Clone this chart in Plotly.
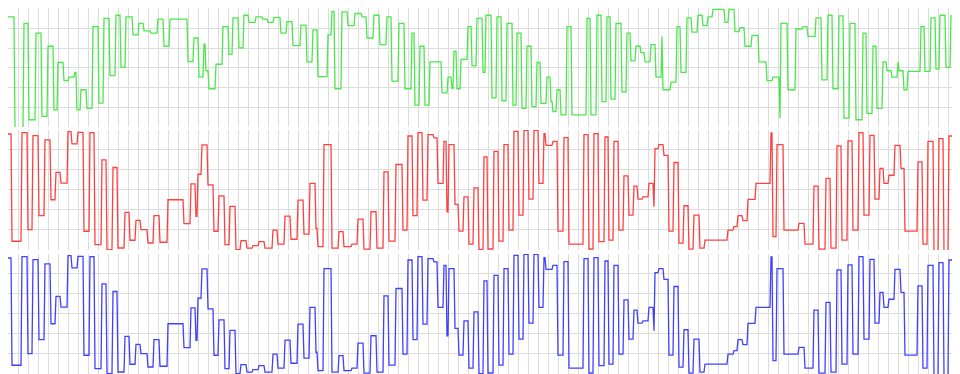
import plotly.graph_objects as go

# Step signal breakpoints: sample position where each level begins, and the level (0..6 grid units)
green_x = [7, 14, 23, 28, 35, 41, 47, 53, 57, 63, 68, 74, 76, 80, 86, 92, 98, 103, 109, 115, 120, 125,
           132, 138, 143, 150, 157, 163, 169, 187, 193, 198, 203, 205, 208, 215, 222, 228, 232, 238,
           243, 248, 255, 262, 267, 273, 280, 286, 292, 300, 306, 312, 317, 327, 331, 334, 341, 347,
           354, 361, 366, 373, 379, 386, 391, 398, 404, 411, 414, 419, 424, 429, 441, 447, 451, 453,
           456, 460, 467, 471, 476, 482, 485, 491, 496, 501, 506, 512, 516, 521, 526, 531, 536, 540,
           546, 550, 552, 556, 560, 566, 571, 586, 590, 596, 601, 606, 610, 615, 621, 626, 630, 635,
           640, 644, 650, 655, 661, 662, 670, 676, 680, 686, 691, 697, 702, 707, 712, 724, 728, 734,
           739, 744, 751, 758, 766, 772, 779, 780, 787, 795, 802, 807, 815, 821, 827, 832, 838, 843,
           849, 855, 862, 866, 872, 876, 882, 886, 891, 897, 898, 903, 907, 920, 924, 930, 935, 939,
           945, 950, 957]
green_y = [5.6, -0.1, 5.27, 0.35, 4.77, 0.52, 4.1, 0.85, 3.27, 2.35, 2.52, 2.77, 0.85, 1.88, 0.93, 5.1,
           1.2, 5.52, 2.6, 5.68, 3.02, 5.6, 4.68, 5.27, 4.88, 4.77, 5.48, 4.1, 5.48, 3.32, 4.52, 2.52,
           4.2, 2.85, 1.93, 3.18, 5.1, 3.68, 5.55, 4.02, 5.68, 5.32, 5.6, 5.48, 5.32, 5.57, 4.77, 5.35,
           4.13, 5.18, 3.3, 4.93, 2.55, 4.68, 5.88, 1.93, 5.85, 5.15, 5.77, 5.6, 4.52, 5.68, 4.18, 5.6,
           2.32, 5.27, 1.93, 4.77, 1.1, 4.1, 1.1, 3.3, 1.72, 2.52, 1.95, 3.85, 1.93, 3.43, 5.1, 3.1,
           5.52, 2.77, 5.68, 1.47, 5.6, 1.32, 5.27, 1.1, 4.77, 0.93, 4.1, 1.02, 3.27, 1.18, 2.52, 1.27,
           0.77, 1.88, 0.6, 5.1, 0.6, 5.52, 0.6, 5.68, 1.27, 5.6, 1.4, 5.27, 1.77, 4.77, 3.35, 4.1,
           3.77, 3.3, 4.18, 2.52, 4.6, 1.88, 2.27, 5.1, 2.77, 5.55, 4.82, 5.68, 5.15, 5.6, 5.98, 5.32,
           5.98, 4.85, 5.05, 4.1, 4.65, 3.3, 2.35, 2.52, 0.43, 5.27, 1.88, 4.98, 5.1, 4.6, 5.55, 2.38,
           5.68, 1.93, 5.65, 0.43, 5.27, 0.35, 4.77, 0.68, 4.1, 0.93, 3.3, 2.85, 2.52, 3.3, 2.85, 1.88,
           2.82, 5.1, 2.82, 5.55, 2.93, 5.68, 3.02, 5.65, 3.1]

red_x = [7, 11, 21, 27, 32, 38, 44, 50, 55, 60, 67, 71, 77, 83, 89, 94, 101, 106, 112, 117, 124, 129,
         135, 140, 147, 153, 159, 167, 183, 190, 195, 197, 201, 207, 213, 218, 224, 229, 235, 240, 246,
         252, 258, 264, 272, 277, 284, 290, 297, 303, 309, 315, 317, 323, 331, 338, 343, 351, 357, 363,
         370, 376, 383, 388, 395, 402, 407, 412, 417, 422, 427, 433, 437, 443, 446, 448, 454, 458, 463,
         468, 473, 478, 483, 487, 493, 498, 503, 508, 513, 518, 523, 528, 533, 538, 543, 545, 552, 557,
         563, 568, 583, 588, 593, 598, 604, 608, 613, 618, 623, 628, 633, 637, 642, 648, 653, 654, 658,
         663, 668, 673, 678, 683, 688, 693, 699, 704, 727, 733, 737, 742, 747, 755, 770, 772, 776, 783,
         798, 804, 813, 818, 825, 830, 836, 841, 847, 852, 858, 863, 869, 874, 879, 883, 888, 894, 900,
         904, 917, 922, 927, 933, 938, 943, 948, 953]
red_y = [5.8, 0.42, 5.87, 1.0, 5.72, 1.7, 5.5, 2.5, 3.87, 3.33, 5.92, 5.3, 5.88, 0.92, 5.87, 0.25, 4.5,
         0.0, 4.12, 0.08, 1.87, 0.47, 1.47, 1.0, 0.33, 1.7, 0.37, 2.5, 1.3, 3.3, 1.67, 3.78, 5.25, 3.25,
         0.92, 2.7, 0.25, 2.17, 0.0, 0.45, 0.07, 0.2, 0.4, 0.07, 0.98, 0.27, 1.68, 0.52, 2.48, 0.78, 3.32,
         1.07, 0.15, 5.27, 0.07, 0.9, 0.15, 0.27, 1.53, 0.02, 1.9, 0.07, 3.9, 0.43, 4.27, 0.98, 5.7, 1.7,
         5.87, 2.48, 5.77, 5.6, 3.32, 5.43, 1.9, 5.27, 2.27, 0.93, 2.65, 0.27, 3.1, 0.0, 4.65, 0.03, 4.93,
         0.43, 5.27, 0.98, 5.93, 1.73, 5.98, 2.53, 5.98, 3.32, 5.82, 5.23, 5.43, 0.93, 5.62, 0.27, 5.77,
         0.03, 5.82, 0.4, 5.65, 0.48, 5.43, 0.98, 3.7, 1.73, 3.18, 2.53, 2.65, 3.32, 2.15, 5.07, 5.27,
         4.73, 0.93, 4.37, 0.32, 2.2, 0.02, 1.73, 0.07, 0.48, 0.98, 1.15, 1.7, 1.45, 2.52, 3.32, 5.85,
         0.65, 5.27, 0.98, 1.32, 0.27, 3.18, 0.02, 3.57, 0.07, 5.2, 0.48, 5.45, 0.98, 5.87, 1.73, 5.73,
         2.53, 4.07, 3.32, 3.73, 5.23, 4.07, 0.93, 4.4, 0.27, 5.43, -0.1, 5.57, -0.1, 5.7, 0.43]

blue_x = [7, 11, 21, 27, 32, 38, 44, 50, 55, 60, 67, 71, 77, 83, 89, 94, 101, 106, 112, 117, 124, 129,
          135, 140, 147, 153, 159, 167, 183, 190, 195, 197, 201, 207, 213, 218, 224, 229, 235, 240, 246,
          252, 258, 264, 272, 277, 284, 290, 297, 303, 309, 315, 317, 323, 331, 338, 343, 351, 357, 363,
          370, 376, 383, 388, 395, 402, 407, 412, 417, 422, 427, 433, 437, 443, 446, 448, 454, 458, 463,
          468, 473, 478, 483, 487, 493, 498, 503, 508, 513, 518, 523, 528, 533, 538, 543, 545, 552, 557,
          563, 568, 583, 588, 593, 598, 604, 608, 613, 618, 623, 628, 633, 637, 642, 648, 653, 654, 658,
          663, 668, 673, 678, 683, 688, 693, 699, 704, 727, 733, 737, 742, 747, 755, 770, 772, 776, 783,
          798, 804, 813, 818, 825, 830, 836, 841, 847, 852, 858, 863, 869, 874, 879, 883, 888, 894, 900,
          904, 917, 922, 927, 933, 938, 943, 948, 953]
blue_y = [5.8, 0.42, 5.87, 1.0, 5.72, 1.7, 5.5, 2.5, 3.87, 3.33, 5.92, 5.3, 5.88, 0.92, 5.87, 0.25, 4.5,
          0.0, 4.12, 0.08, 1.87, 0.47, 1.47, 1.0, 0.33, 1.7, 0.37, 2.5, 1.3, 3.3, 1.67, 3.78, 5.25, 3.25,
          0.92, 2.7, 0.25, 2.17, 0.0, 0.45, 0.07, 0.2, 0.4, 0.07, 0.98, 0.27, 1.68, 0.52, 2.48, 0.78, 3.32,
          1.07, 0.15, 5.27, 0.07, 0.9, 0.15, 0.27, 1.53, 0.02, 1.9, 0.07, 3.9, 0.43, 4.27, 0.98, 5.7, 1.7,
          5.87, 2.48, 5.77, 5.6, 3.32, 5.43, 1.9, 5.27, 2.27, 0.93, 2.65, 0.27, 3.1, 0.0, 4.65, 0.03, 4.93,
          0.43, 5.27, 0.98, 5.93, 1.73, 5.98, 2.53, 5.98, 3.32, 5.82, 5.23, 5.43, 0.93, 5.62, 0.27, 5.77,
          0.03, 5.82, 0.4, 5.65, 0.48, 5.43, 0.98, 3.7, 1.73, 3.18, 2.53, 2.65, 3.32, 2.15, 5.07, 5.27,
          4.73, 0.93, 4.37, 0.32, 2.2, 0.02, 1.73, 0.07, 0.48, 0.98, 1.15, 1.7, 1.45, 2.52, 3.32, 5.85,
          0.65, 5.27, 0.98, 1.32, 0.27, 3.18, 0.02, 3.57, 0.07, 5.2, 0.48, 5.45, 0.98, 5.87, 1.73, 5.73,
          2.53, 4.07, 3.32, 3.73, 5.23, 4.07, 0.93, 4.4, 0.27, 5.43, -0.1, 5.57, -0.1, 5.7, 0.43]

X_END = 968
GRID = "#dcdcdc"


def expand(starts, levels, end):
    xs, ys = [], []
    for i, (s, v) in enumerate(zip(starts, levels)):
        e = starts[i + 1] - 1 if i + 1 < len(starts) else end
        xs += [s, max(s, e)]
        ys += [v, v]
    return xs, ys


series = [
    (green_x, green_y, "#4ae84a", "x", "y"),
    (red_x, red_y, "#ff4040", "x2", "y2"),
    (blue_x, blue_y, "#4040ff", "x3", "y3"),
]

fig = go.Figure()
for sx, sy, col, xa, ya in series:
    xs, ys = expand(sx, sy, X_END)
    fig.add_trace(go.Scatter(x=xs, y=ys, mode="lines", xaxis=xa, yaxis=ya,
                             line=dict(color=col, width=1.3), hoverinfo="skip",
                             showlegend=False))

# the page body adds an 8px offset; panel tops/bottoms in figure pixels
H = 374.0
panels = [(0.0, 119.0, 6.0 + 1.0 / 20.0), (122.0, 242.0, 6.0), (246.0, 366.0, 6.0)]

layout = dict(width=960, height=374, margin=dict(l=0, r=0, t=0, b=0),
              paper_bgcolor="white", plot_bgcolor="white", showlegend=False)
for i, (top, bot, ymax) in enumerate(panels):
    sfx = "" if i == 0 else str(i + 1)
    layout["xaxis" + sfx] = dict(range=[7, 967], domain=[0, 1], tick0=7, dtick=10,
                                 showgrid=True, gridcolor=GRID, gridwidth=1, zeroline=False,
                                 showticklabels=False, ticks="", anchor="y" + sfx,
                                 showline=False)
    layout["yaxis" + sfx] = dict(range=[-0.02, ymax], domain=[(H - bot) / H, (H - top) / H],
                                 tick0=0, dtick=1,
                                 showgrid=True, gridcolor=GRID, gridwidth=1, zeroline=False,
                                 showticklabels=False, ticks="", anchor="x" + sfx,
                                 showline=False)
fig.update_layout(**layout)
fig.write_html("out.html")
